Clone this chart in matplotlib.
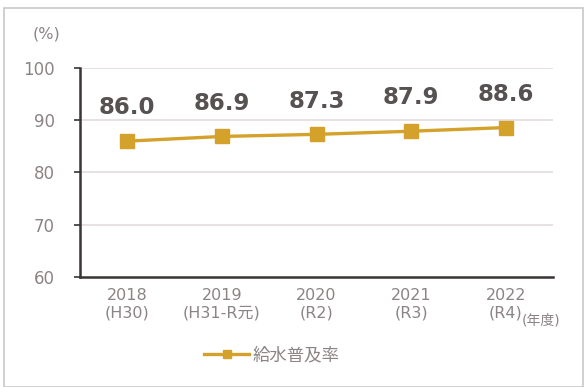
import matplotlib
matplotlib.use("Agg")
import matplotlib.pyplot as plt
from matplotlib.patches import Rectangle

plt.rcParams['font.family'] = ['DejaVu Sans', 'Noto Sans CJK JP']

# データ
years = ['2018', '2019', '2020', '2021', '2022']
eras = ['(H30)', '(H31-R元)', '(R2)', '(R3)', '(R4)']
rate = [86.0, 86.9, 87.3, 87.9, 88.6]
y_ticks = [60, 70, 80, 90, 100]
series_name = '給水普及率'

GOLD = '#d4a12b'
TICK_GRAY = '#8c8484'
DARK = '#575151'

fig = plt.figure(figsize=(5.87, 3.87), dpi=100)
ax = fig.add_axes([80 / 587, 1 - 277 / 387, 473 / 587, 209 / 387])

# 外枠
fig.patches.append(Rectangle((4 / 587, 0.0), 579 / 587, 1 - 8 / 387,
                             transform=fig.transFigure, fill=False,
                             edgecolor='#c8c8c8', linewidth=1.2))

x = list(range(len(years)))
line, = ax.plot(x, rate, color=GOLD, linewidth=2.4, marker='s',
                markersize=10, markerfacecolor=GOLD, markeredgecolor=GOLD,
                label=series_name, zorder=3)

for xi, v in zip(x, rate):
    ax.annotate(f'{v:.1f}', (xi, v), xytext=(0, 24), textcoords='offset points',
                ha='center', va='center', fontsize=16.5, fontweight='bold',
                color=DARK)

ax.set_xlim(-0.5, 4.5)
ax.set_ylim(60, 100)
ax.set_yticks(y_ticks)
ax.set_yticklabels([str(t) for t in y_ticks], fontsize=12, color=TICK_GRAY)
ax.set_xticks(x)
ax.set_xticklabels([f'{y}\n{e}' for y, e in zip(years, eras)],
                   fontsize=11.5, color=TICK_GRAY, linespacing=1.2)
ax.tick_params(axis='x', length=0, pad=8)
ax.tick_params(axis='y', length=4, width=1.2, color='#3a3434', pad=14)

for t in [70, 80, 90, 100]:
    ax.axhline(t, color='#e3dcdc', linewidth=1.2, zorder=1)

for s in ['top', 'right']:
    ax.spines[s].set_visible(False)
ax.spines['left'].set_color('#3a3434')
ax.spines['bottom'].set_color('#3a3434')
ax.spines['left'].set_linewidth(1.8)
ax.spines['bottom'].set_linewidth(1.8)

fig.text(46 / 587, 1 - 34 / 387, '(%)', fontsize=11.5, color=TICK_GRAY,
         ha='center', va='center')
fig.text(541 / 587, 1 - 320 / 387, '(年度)', fontsize=10, color=TICK_GRAY,
         ha='center', va='center')

leg = fig.legend(handles=[line], loc='center', bbox_to_anchor=(272 / 587, 1 - 355 / 387),
                 frameon=False, fontsize=12.5, handlelength=2.6, handletextpad=0.2,
                 markerscale=0.6)
for t in leg.get_texts():
    t.set_color(TICK_GRAY)

fig.savefig('out.png', dpi=100)
